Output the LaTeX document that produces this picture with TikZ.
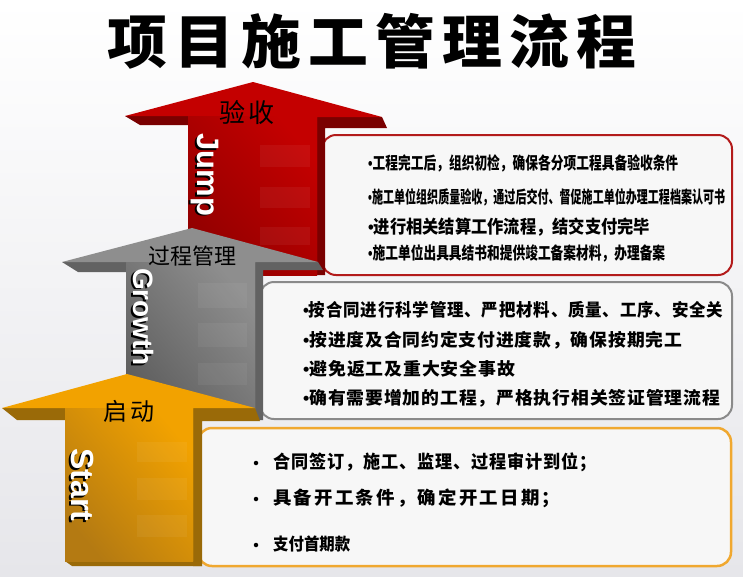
\documentclass[tikz,border=0pt]{standalone}
\usepackage{fontspec}
\usepackage{graphicx}
\newfontfamily\cjk{Noto Sans CJK SC}
\newfontfamily\cjkls[LetterSpace=12]{Noto Sans CJK SC}
\newfontfamily\cjkss[LetterSpace=5]{Noto Sans CJK SC}
\newfontfamily\lat{Liberation Sans}
\newcommand{\fitw}[2]{\resizebox{#1}{\height}{#2}}
\newcommand{\bul}{{\lat\bfseries •}}
\definecolor{bgb}{HTML}{E6E6EA}
\definecolor{boxfill}{HTML}{F7F7F7}
\definecolor{redface}{HTML}{C40000}
\definecolor{reddark}{HTML}{920000}
\definecolor{redside}{HTML}{7A0000}
\definecolor{redline}{HTML}{B31B1B}
\definecolor{grayface}{HTML}{8E8E8E}
\definecolor{graydark}{HTML}{5E5E5E}
\definecolor{grayside}{HTML}{626262}
\definecolor{grayline}{HTML}{8A8A8A}
\definecolor{orface}{HTML}{F2A200}
\definecolor{ordark}{HTML}{B47A12}
\definecolor{orside}{HTML}{9A6A08}
\definecolor{orline}{HTML}{F0A830}
\tikzset{
  txt/.style={anchor=west,inner sep=0pt,text=black},
  lbl/.style={inner sep=0pt,text=black},
  eng/.style={inner sep=0pt,rotate=-90,text=white},
  engsh/.style={inner sep=0pt,rotate=-90,text=black},
  infobox/.style={fill=boxfill,line width=2pt,rounded corners=14pt},
  stripe/.style={fill=white,fill opacity=0.05},
  dot/.style={circle,fill=black,inner sep=0pt,minimum size=4.5pt}
}
\begin{document}
\begin{tikzpicture}[x=1pt,y=-1pt]
\useasboundingbox (0,0) rectangle (743,576);
\shade[top color=white,bottom color=bgb] (0,0) rectangle (743,576);

% title
\node[lbl] (title) at (372,41) {\fitw{529pt}{\cjkls\bfseries\fontsize{58}{60}\selectfont 项目施工管理流程}};

% ===== red (Jump) =====
\draw[infobox,draw=redline] (322,135) rectangle (732,275);
\fill[redside] (317,117) -- (382,117) -- (387,128) -- (325,128) -- (325,275) -- (317,275) -- cycle;
\fill[redside] (125,116) -- (188,116) -- (188,125) -- (140,125) -- cycle;
\fill[redface] (253,82) -- (382,117) -- (317,117) -- (317,275) -- (188,275) -- (188,116) -- (125,116) -- cycle;
\shade[top color=redface,middle color=redface!92!reddark,bottom color=reddark,shading angle=-50] (188,116) rectangle (317,275);
\fill[stripe] (260,145) rectangle (310,167);
\fill[stripe] (260,187) rectangle (310,208);
\fill[stripe] (260,227) rectangle (310,245);
\node[lbl] (lblr) at (247,113) {\cjk\fontsize{26}{28}\selectfont 验\hspace{3pt}收};
\node[engsh] (jumpsh) at (203,176.5) {\lat\bfseries\fontsize{31}{31}\selectfont Jump};
\node[eng] (jump) at (205,175) {\lat\bfseries\fontsize{31}{31}\selectfont Jump};
\node[txt] (r1) at (368,163) {\fitw{310pt}{\cjk\bfseries\fontsize{17}{19}\selectfont \bul 工程完工后，组织初检，确保各分项工程具备验收条件}};
\node[txt] (r2) at (368,197) {\fitw{357pt}{\cjk\bfseries\fontsize{17}{19}\selectfont \bul 施工单位组织质量验收，通过后交付、督促施工单位办理工程档案认可书}};
\node[txt] (r3) at (368,227) {\fitw{282pt}{\cjk\bfseries\fontsize{18}{20}\selectfont \bul 进行相关结算工作流程，结交支付完毕}};
\node[txt] (r4) at (368,253) {\fitw{297pt}{\cjk\bfseries\fontsize{17}{19}\selectfont \bul 施工单位出具具结书和提供竣工备案材料，办理备案}};

% ===== gray (Growth) =====
\draw[infobox,draw=grayline] (260,282) rectangle (732,419);
\fill[grayside] (255,262) -- (318,262) -- (323,270) -- (263,270) -- (263,420) -- (255,420) -- cycle;
\fill[grayside] (62,262) -- (126,262) -- (126,272) -- (78,272) -- cycle;
\fill[grayface] (192,228) -- (318,262) -- (255,262) -- (255,420) -- (126,420) -- (126,262) -- (62,262) -- cycle;
\shade[top color=grayface,middle color=grayface!92!graydark,bottom color=graydark,shading angle=-50] (126,262) rectangle (255,420);
\fill[stripe] (198,283) rectangle (247,308);
\fill[stripe] (198,323) rectangle (247,347);
\fill[stripe] (198,363) rectangle (247,385);
\node[lbl] (lblg) at (192,256) {\cjk\fontsize{22}{24}\selectfont 过程管理};
\node[engsh] (growsh) at (142,318.5) {\lat\bfseries\fontsize{28}{28}\selectfont Growth};
\node[eng] (grow) at (144,317) {\lat\bfseries\fontsize{28}{28}\selectfont Growth};
\node[txt] (g1) at (303,310) {\fitw{420pt}{\cjkss\bfseries\fontsize{17.5}{19}\selectfont \bul 按合同进行科学管理、严把材料、质量、工序、安全关}};
\node[txt] (g2) at (303,340) {\fitw{379pt}{\cjkss\bfseries\fontsize{17.5}{19}\selectfont \bul 按进度及合同约定支付进度款，确保按期完工}};
\node[txt] (g3) at (303,369) {\fitw{212pt}{\cjkss\bfseries\fontsize{17.5}{19}\selectfont \bul 避免返工及重大安全事故}};
\node[txt] (g4) at (303,398) {\fitw{417pt}{\cjkss\bfseries\fontsize{17.5}{19}\selectfont \bul 确有需要增加的工程，严格执行相关签证管理流程}};

% ===== orange (Start) =====
\draw[infobox,draw=orline,line width=2.5pt] (198,428) rectangle (731,566);
\fill[orside] (193,408) -- (255,408) -- (260,421) -- (202,421) -- (202,566) -- (193,566) -- cycle;
\fill[orside] (2,408) -- (65,408) -- (65,420) -- (17,420) -- cycle;
\fill[orside] (65,561) -- (193,561) -- (202,566) -- (72,566) -- cycle;
\fill[orface] (127,374) -- (255,408) -- (193,408) -- (193,561) -- (65,561) -- (65,408) -- (2,408) -- cycle;
\shade[top color=orface,middle color=orface!90!ordark,bottom color=ordark,shading angle=-50] (65,408) rectangle (193,561);
\fill[stripe] (137,442) rectangle (187,462);
\fill[stripe] (137,478) rectangle (187,500);
\fill[stripe] (137,515) rectangle (187,537);
\node[lbl] (lblo) at (129,411) {\cjk\fontsize{24}{26}\selectfont 启\hspace{4pt}动};
\node[engsh] (startsh) at (81,486.5) {\lat\bfseries\fontsize{32}{32}\selectfont Start};
\node[eng] (start) at (83,485) {\lat\bfseries\fontsize{32}{32}\selectfont Start};
\node[dot] (ob1) at (256,463) {};
\node[dot] (ob2) at (256,499) {};
\node[dot] (ob3) at (256,545) {};
\node[txt] (o1) at (273,462) {\fitw{323pt}{\cjkss\bfseries\fontsize{18}{20}\selectfont 合同签订，施工、监理、过程审计到位；}};
\node[txt] (o2) at (273,498) {\fitw{287pt}{\cjkls\bfseries\fontsize{18}{20}\selectfont 具备开工条件，确定开工日期；}};
\node[txt] (o3) at (273,544) {\fitw{77pt}{\cjk\bfseries\fontsize{17}{19}\selectfont 支付首期款}};
\end{tikzpicture}
\end{document}
